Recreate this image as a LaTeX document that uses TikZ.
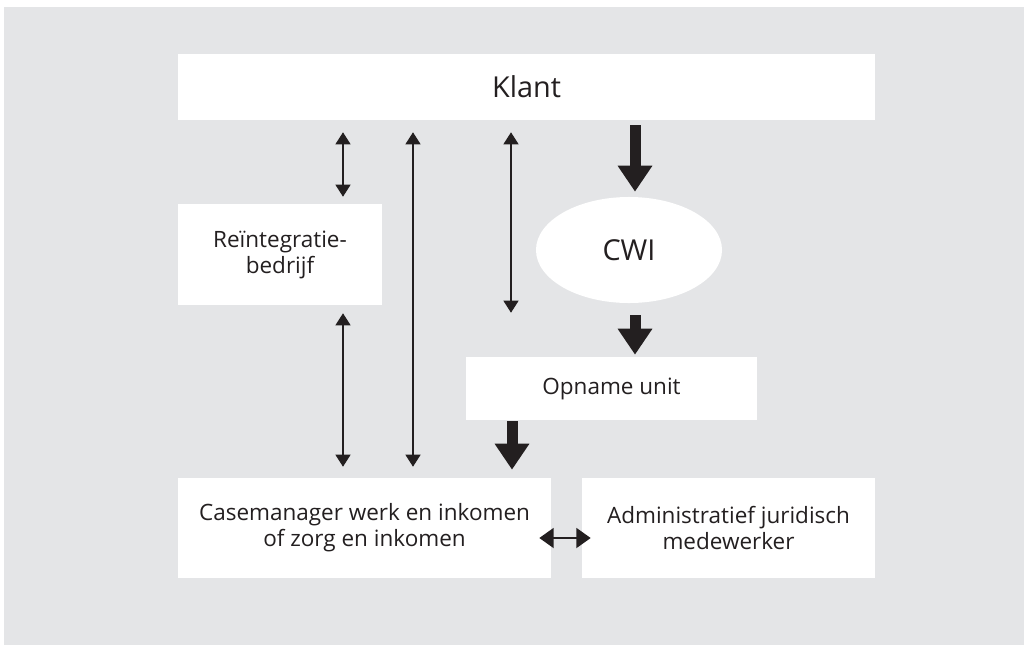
\documentclass[tikz,border=0pt]{standalone}
\usepackage{fontspec}
\setmainfont{Open Sans}
\usetikzlibrary{arrows.meta,shapes.geometric}

\definecolor{panelgray}{HTML}{E4E5E7}
\definecolor{inkgray}{HTML}{231F20}

\begin{document}
\begin{tikzpicture}[x=0.025cm, y=-0.025cm,
    box/.style={fill=white, text=inkgray, align=center, inner sep=0pt,
        font=\fontsize{16}{18.5}\selectfont},
    bigbox/.style={box, font=\fontsize{20.5}{24}\selectfont},
    thinarrow/.style={<->, >={Triangle[width=0.375cm,length=0.3cm]}, line width=0.9pt, draw=inkgray},
    swaparrow/.style={<->, >={Triangle[width=0.5cm,length=0.36cm]}, line width=1.4pt, draw=inkgray},
    bigarrow/.style={->, >={Triangle[width=0.825cm,length=0.65cm]}, line width=0.275cm, draw=inkgray}]

        \useasboundingbox (0,0) rectangle (1024,645);
        \fill[panelgray] (4,7) rectangle (1024,645);

        \node[bigbox, minimum width=17.425cm, minimum height=1.65cm] (klant) at (526.5,87) {Klant};

        \node[box, minimum width=5.1cm, minimum height=2.525cm] (reint) at (280,254.5) {Reïntegratie-\\bedrijf};
        \node[bigbox, ellipse, minimum width=4.65cm, minimum height=2.65cm] (cwi) at (629,250) {CWI};

        \node[box, minimum width=7.275cm, minimum height=1.575cm] (opname) at (611.5,388.5) {Opname unit};

        \node[box, minimum width=9.325cm, minimum height=2.5cm] (case) at (364.5,528) {Casemanager werk en inkomen\\of zorg en inkomen};
        \node[box, minimum width=7.325cm, minimum height=2.5cm] (admin) at (728.5,528) {Administratief juridisch\\medewerker};

        % columns of the thin arrows
        \coordinate (c1) at (343,0);
        \coordinate (c2) at (413,0);
        \coordinate (c3) at (511,0);
        \coordinate (c4) at (0,538);

        % thin arrows between Klant and the lower boxes
        \draw[thinarrow, shorten <=0.3cm, shorten >=0.175cm] (klant.south -| c1) -- (reint.north -| c1);
        \draw[thinarrow, shorten <=0.2cm, shorten >=0.275cm] (reint.south -| c1) -- (case.north -| c1);
        \draw[thinarrow, shorten <=0.3cm, shorten >=0.275cm] (klant.south -| c2) -- (case.north -| c2);
        \draw[thinarrow, shorten <=0.3cm, shorten >=1.1cm] (klant.south -| c3) -- (opname.north -| c3);

        % thick arrows along the intake route
        \draw[bigarrow, shorten <=0.125cm, shorten >=0.125cm] (klant.south -| cwi.north) ++(6,0) -- (cwi.north -| 635,0);
        \draw[bigarrow, shorten <=0.3cm, shorten >=0.05cm] (cwi.south -| 635,0) -- (opname.north -| 635,0);
        \draw[bigarrow, shorten <=0.025cm, shorten >=0.2cm] (opname.south -| c3) ++(1,0) -- (case.north -| 512,0);

        % between the two lower boxes
        \draw[swaparrow, shorten <=-0.3cm, shorten >=-0.225cm] (case.east |- c4) -- (admin.west |- c4);

    \end{tikzpicture}
\end{document}
